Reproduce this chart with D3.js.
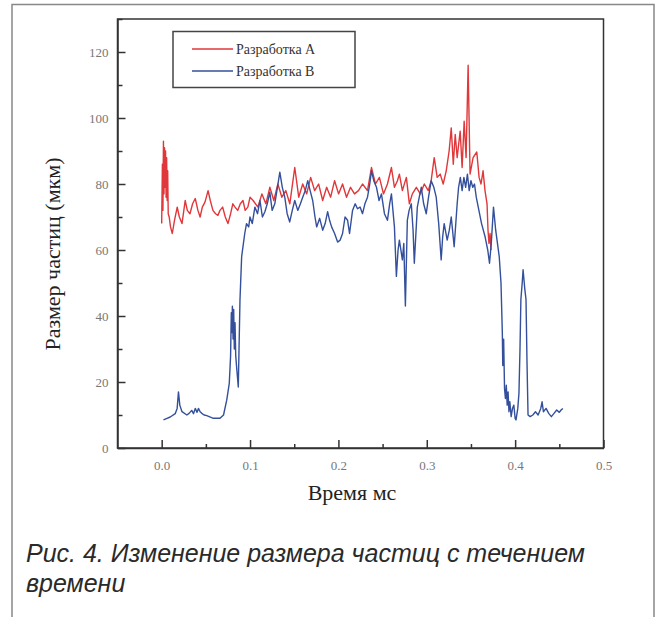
<!DOCTYPE html>
<html>
<head>
<meta charset="utf-8">
<script src="https://cdn.jsdelivr.net/npm/d3@7"></script>
<style>
  body { margin: 0; background: #fff; }
  .axis text { font-family: "Liberation Serif", serif; font-size: 13px; fill: #777; }
  .axis path, .axis line { stroke: #333; stroke-width: 1.5; }
</style>
</head>
<body>
<div id="chart"></div>
<script>
// Разработка А (red)
const timeA = [0.000, 0.0008, 0.0014, 0.002, 0.0026, 0.0032, 0.0038, 0.0044, 0.005, 0.0056, 0.0062, 0.0068, 0.0074, 0.0085,
  0.010, 0.012, 0.0145, 0.0176, 0.020, 0.023, 0.0266, 0.029, 0.032, 0.035, 0.038, 0.041, 0.0435, 0.046, 0.049, 0.0525,
  0.055, 0.058, 0.061, 0.0636, 0.066, 0.069, 0.072, 0.075, 0.078, 0.0805, 0.083, 0.086, 0.089, 0.092, 0.0945, 0.0975,
  0.100, 0.1035, 0.1089, 0.1134, 0.1179, 0.1224, 0.1269, 0.1315, 0.136, 0.1405, 0.145, 0.1506, 0.1551, 0.1596, 0.1641,
  0.1686, 0.1731, 0.1776, 0.1822, 0.1867, 0.1912, 0.1957, 0.2002, 0.2047, 0.2092, 0.2137, 0.2182, 0.2227, 0.2273, 0.2329,
  0.2374, 0.2419, 0.2464, 0.251, 0.2555, 0.26, 0.2634, 0.2668, 0.269, 0.2724, 0.2769, 0.2803, 0.2837, 0.2882, 0.2927,
  0.2972, 0.3017, 0.305, 0.3084, 0.3118, 0.3152, 0.3186, 0.322, 0.3253, 0.3277, 0.33, 0.3322, 0.3344, 0.3378, 0.34,
  0.3423, 0.3445, 0.3468, 0.349, 0.3524, 0.3566, 0.3592, 0.3614, 0.3637, 0.3659, 0.3682, 0.3693, 0.3704, 0.3716, 0.3727];
const sizeA = [68, 86, 72, 93, 77, 91, 79, 90, 76, 88, 75, 84, 71, 70,
  67, 65, 69, 73, 70, 68, 75, 72, 71, 74, 75.6, 72, 70, 73, 74.5, 78,
  75, 72, 71, 70.5, 72, 73, 70, 68, 71, 74, 73, 72, 74, 75, 72, 73,
  76, 75, 73, 77, 74, 79, 75, 80, 76, 78, 74, 85, 76, 80, 77,
  82, 78, 80, 75, 79, 76, 81, 77, 80, 76, 79, 77, 78, 80, 78,
  85, 80, 82, 77, 80, 85, 79, 81, 83, 78, 82, 74, 77, 79, 77,
  80, 78, 81, 88, 82, 83, 80, 84, 90, 97, 86, 95, 88, 96, 85,
  99, 88, 116, 83, 88, 89.7, 82, 80, 84, 78, 74, 66, 62, 65, 60];

// Разработка В (blue)
const timeB = [0.002, 0.006, 0.0097, 0.0153, 0.0175, 0.019, 0.0205, 0.023, 0.0285, 0.031, 0.034, 0.036, 0.038, 0.040,
  0.0416, 0.0435, 0.0454, 0.048, 0.051, 0.0585, 0.066, 0.070, 0.0736, 0.0765, 0.078, 0.0788, 0.0795, 0.080, 0.0808,
  0.0815, 0.0822, 0.083, 0.0838, 0.0848, 0.0867, 0.0886, 0.0905, 0.094, 0.096, 0.0985, 0.0999, 0.1025, 0.1055, 0.1085,
  0.1112, 0.114, 0.1168, 0.1195, 0.1224, 0.125, 0.128, 0.131, 0.1337, 0.1365, 0.1393, 0.142, 0.1449, 0.1478, 0.1506,
  0.154, 0.157, 0.1596, 0.1625, 0.1653, 0.168, 0.1709, 0.1735, 0.1754, 0.1788, 0.1822, 0.185, 0.1878, 0.19, 0.1923,
  0.1957, 0.1991, 0.202, 0.2047, 0.2075, 0.2104, 0.2126, 0.216, 0.219, 0.2216, 0.2245, 0.2273, 0.230, 0.2329, 0.2355,
  0.2374, 0.240, 0.2431, 0.246, 0.2487, 0.2521, 0.2555, 0.258, 0.260, 0.2634, 0.2656, 0.2675, 0.269, 0.2724, 0.274,
  0.2758, 0.278, 0.280, 0.2825, 0.2845, 0.2859, 0.2875, 0.2893, 0.2915, 0.2938, 0.2965, 0.2994, 0.302, 0.305, 0.308,
  0.3107, 0.3135, 0.3163, 0.318, 0.3197, 0.3231, 0.3255, 0.3277, 0.331, 0.3344, 0.336, 0.338, 0.340, 0.342, 0.344,
  0.346, 0.348, 0.350, 0.352, 0.354, 0.356, 0.359, 0.362, 0.366, 0.369, 0.371, 0.373, 0.3755, 0.378, 0.380, 0.382,
  0.384, 0.3855, 0.386, 0.387, 0.388, 0.389, 0.390, 0.391, 0.392, 0.393, 0.394, 0.3955, 0.397, 0.3985, 0.400, 0.401,
  0.403, 0.4043, 0.4055, 0.4065, 0.408, 0.409, 0.410, 0.411, 0.4123, 0.4135, 0.4146, 0.417, 0.420, 0.423, 0.426,
  0.429, 0.4305, 0.432, 0.435, 0.438, 0.441, 0.444, 0.447, 0.450, 0.452, 0.454];
const sizeB = [8.5, 9, 9.4, 10.4, 12, 17, 13, 11, 10, 10.5, 11.4, 10.4, 12, 10.8,
  12, 11, 10.5, 10, 9.8, 9, 9, 10, 14.5, 19.6, 28, 41, 35, 43, 33,
  42, 30, 38, 28, 24.5, 18.5, 44.8, 58, 65, 68, 67, 70, 68, 73, 71,
  75, 70, 71.6, 74, 77.5, 72, 74, 79, 83.6, 79, 76, 71, 68.5, 72, 75,
  72, 74, 76, 78, 81, 78, 75, 70, 67, 69.6, 66, 68, 71.6, 69, 67,
  65, 62.4, 63, 65, 70, 69, 65, 72, 74, 72.5, 73, 71, 74, 76, 80,
  84, 81, 79, 75, 77, 71, 69, 74, 77, 67, 52, 60, 63, 57, 62,
  43, 69, 72, 74, 66, 56, 64, 73, 76, 79, 74, 71, 76, 81, 79,
  76, 68, 57, 64, 68, 63, 66, 70, 61, 74, 79, 82, 78, 82, 79,
  83, 78, 81, 79, 80, 76, 72, 68, 64, 60, 56, 62, 73, 66, 62, 58,
  50, 35, 25, 33, 18, 15, 19, 13, 17, 11, 14, 9.5, 12, 13, 9, 8.5,
  12, 16.5, 30, 45, 50, 54, 51, 48, 45, 25, 10, 9.5, 10, 11, 10,
  12, 14, 11, 12, 10.5, 9.5, 10.5, 11.5, 10.8, 11.5, 12];

const seriesNames = ["Разработка А", "Разработка В"];
const seriesColors = ["#e0373a", "#34509c"];
const xMajor = [0, 0.1, 0.2, 0.3, 0.4, 0.5];
const xMinor = [0.05, 0.15, 0.25, 0.35, 0.45];
const yMajor = [0, 20, 40, 60, 80, 100, 120];
const yMinor = [10, 30, 50, 70, 90, 110, 130];

const W = 659, H = 617;
const svg = d3.select("#chart").append("svg").attr("width", W).attr("height", H);

// outer frame (top, left, right)
svg.append("path")
  .attr("d", "M12,617 L12,4.5 L654,4.5 L654,617")
  .attr("fill", "none").attr("stroke", "#888").attr("stroke-width", 1.5);

const plotL = 117.5, plotR = 603.5, plotT = 19, plotB = 448;

const x = d3.scaleLinear().domain([-0.05, 0.5]).range([plotL, plotR]);
const y = d3.scaleLinear().domain([0, 130]).range([plotB, plotT]);

// plot box
svg.append("rect")
  .attr("x", plotL).attr("y", plotT).attr("width", plotR - plotL).attr("height", plotB - plotT)
  .attr("fill", "none").attr("stroke", "#333").attr("stroke-width", 1.5);

const xAxis = svg.append("g").attr("class", "axis")
  .attr("transform", "translate(0," + plotB + ")")
  .call(d3.axisBottom(x).tickValues(xMajor).tickFormat(d3.format(".1f"))
    .tickSizeInner(-8).tickSizeOuter(0).tickPadding(13));
xAxis.selectAll("text").attr("dy", "0.71em");

svg.append("g").attr("class", "axis")
  .attr("transform", "translate(0," + plotB + ")")
  .call(d3.axisBottom(x).tickValues(xMinor).tickFormat("").tickSizeInner(-4).tickSizeOuter(0))
  .select(".domain").remove();

svg.append("g").attr("class", "axis")
  .attr("transform", "translate(" + plotL + ",0)")
  .call(d3.axisLeft(y).tickValues(yMajor).tickFormat(d3.format("d"))
    .tickSizeInner(-8).tickSizeOuter(0).tickPadding(9));

svg.append("g").attr("class", "axis")
  .attr("transform", "translate(" + plotL + ",0)")
  .call(d3.axisLeft(y).tickValues(yMinor).tickFormat("").tickSizeInner(-5).tickSizeOuter(0))
  .select(".domain").remove();

// series
const line = d3.line().x(d => x(d[0])).y(d => y(d[1]));
const dataA = d3.zip(timeA, sizeA);
const dataB = d3.zip(timeB, sizeB);

svg.append("path").datum(dataA)
  .attr("d", line).attr("fill", "none")
  .attr("stroke", seriesColors[0]).attr("stroke-width", 1.4).attr("stroke-linejoin", "round");

svg.append("path").datum(dataB)
  .attr("d", line).attr("fill", "none")
  .attr("stroke", seriesColors[1]).attr("stroke-width", 1.4).attr("stroke-linejoin", "round");

// legend
const lg = svg.append("g");
lg.append("rect")
  .attr("x", 173).attr("y", 31.5).attr("width", 182).attr("height", 56)
  .attr("fill", "#fff").attr("stroke", "#444").attr("stroke-width", 1.5);
seriesNames.forEach((name, i) => {
  const ly = 49 + i * 22;
  lg.append("line")
    .attr("x1", 192).attr("x2", 233).attr("y1", ly).attr("y2", ly)
    .attr("stroke", seriesColors[i]).attr("stroke-width", 1.4);
  lg.append("text")
    .attr("x", 236).attr("y", ly).attr("dy", "0.35em")
    .style("font-family", "Liberation Serif, serif").style("font-size", "14px").style("fill", "#333")
    .text(name);
});

// axis titles
svg.append("text")
  .attr("x", 352).attr("y", 500)
  .attr("text-anchor", "middle")
  .style("font-family", "Liberation Serif, serif").style("font-size", "22px").style("fill", "#222")
  .text("Время мс");

svg.append("text")
  .attr("transform", "translate(60,254) rotate(-90)")
  .attr("text-anchor", "middle")
  .style("font-family", "Liberation Serif, serif").style("font-size", "22px").style("fill", "#222")
  .text("Размер частиц (мкм)");

// caption
const cap = svg.append("text")
  .style("font-family", "Liberation Sans, Arial, sans-serif").style("font-style", "italic")
  .style("font-size", "25px").style("fill", "#2a2a2a");
cap.append("tspan").attr("x", 26).attr("y", 562).text("Рис. 4. Изменение размера частиц с течением");
cap.append("tspan").attr("x", 26).attr("y", 592).text("времени");
</script>
</body>
</html>
